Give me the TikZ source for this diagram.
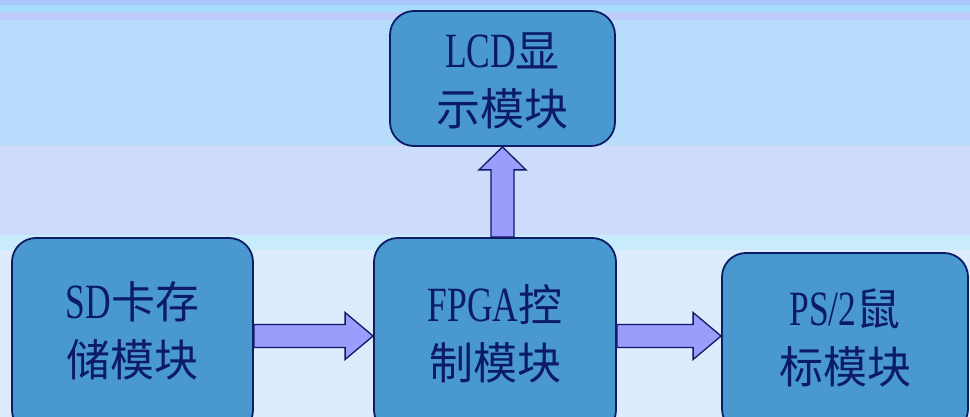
\documentclass[tikz,border=0pt]{standalone}
\usepackage{fontspec}
\setmainfont{Liberation Serif}[FakeStretch=0.72, Scale=1.12]
\newfontfamily\cjk{Noto Sans CJK SC}
\usetikzlibrary{calc}

\definecolor{boxblue}{HTML}{4A98D0}
\definecolor{navy}{HTML}{0C1C64}
\definecolor{arrowfill}{HTML}{9C9CFC}

\tikzset{
  module/.style={draw=navy, line width=1.8pt, fill=boxblue, rounded corners=24pt,
    text=navy, inner sep=0pt, font=\fontsize{44}{58}\selectfont},
  fat arrow/.style={draw=navy, line width=1.3pt, fill=arrowfill, to path={
    ($(\tikztostart)!11.5pt!90:(\tikztotarget)$)
    -- ($($(\tikztotarget)!#1!(\tikztostart)$)!11.5pt!90:(\tikztotarget)$)
    -- ($($(\tikztotarget)!#1!(\tikztostart)$)!23.5pt!90:(\tikztotarget)$)
    -- (\tikztotarget)
    -- ($($(\tikztotarget)!#1!(\tikztostart)$)!23.5pt!-90:(\tikztotarget)$)
    -- ($($(\tikztotarget)!#1!(\tikztostart)$)!11.5pt!-90:(\tikztotarget)$)
    -- ($(\tikztostart)!11.5pt!-90:(\tikztotarget)$) -- cycle}},
  fat arrow/.default=28pt
}

\begin{document}
\begin{tikzpicture}[x=1pt, y=-1pt]
\useasboundingbox (0,0) rectangle (970,417);
\clip (0,0) rectangle (970,417);

% background bands
\fill[color={rgb,255:red,168;green,200;blue,252}] (0,0) rectangle (970,5);
\fill[color={rgb,255:red,168;green,220;blue,252}] (0,5) rectangle (970,12);
\fill[color={rgb,255:red,192;green,204;blue,252}] (0,12) rectangle (970,20);
\fill[color={rgb,255:red,184;green,220;blue,252}] (0,20) rectangle (970,145);
\fill[color={rgb,255:red,206;green,220;blue,252}] (0,145) rectangle (970,235);
\fill[color={rgb,255:red,200;green,236;blue,252}] (0,235) rectangle (970,250);
\fill[color={rgb,255:red,220;green,236;blue,252}] (0,250) rectangle (970,417);

\node[module, minimum width=225pt, minimum height=135pt] (lcd) at (502.5, 78.5) {\raisebox{-6pt}[\height][\depth]{\begin{tabular}{c}
LCD{\cjk 显} \\
{\cjk 示模块}
\end{tabular}}};

\node[module, minimum width=241pt, minimum height=196pt] (sd) at (132.5, 336) {\begin{tabular}{c}
SD{\cjk 卡存} \\
{\cjk 储模块}
\end{tabular}};

\node[module, minimum width=242pt, minimum height=196pt] (fpga) at (495, 336) {\raisebox{-3pt}[\height][\depth]{\begin{tabular}{c}
FPGA{\cjk 控} \\
{\cjk 制模块}
\end{tabular}}};

\node[module, minimum width=246pt, minimum height=180pt] (ps2) at (845, 343) {\begin{tabular}{c}
PS/2{\cjk 鼠} \\
{\cjk 标模块}
\end{tabular}};

\draw[fat arrow] (sd.east) to (fpga.west);
\draw[fat arrow] (fpga.east) to (fpga.east -| ps2.west);
\draw[fat arrow=23pt] (lcd.south |- fpga.north) to (lcd.south);
\end{tikzpicture}
\end{document}
